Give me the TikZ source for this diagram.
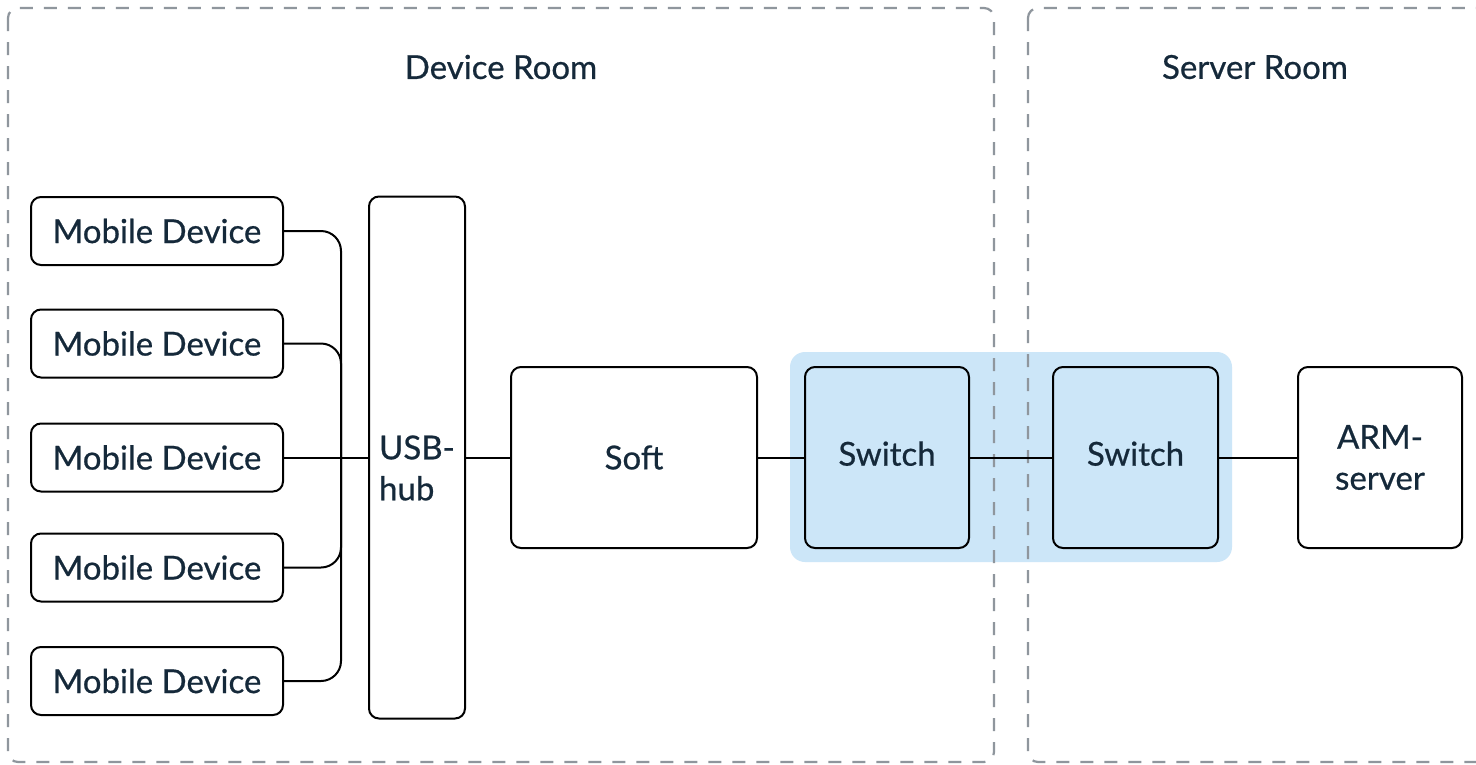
\documentclass[tikz,border=0pt]{standalone}
\usepackage{fontspec}
\setmainfont{Lato}
\newfontfamily\labfont{Lato}[FakeBold=0.6]
\definecolor{txt}{HTML}{15293A}
\definecolor{hl}{HTML}{CCE6F8}
\definecolor{dashc}{HTML}{8F969D}
\begin{document}
\begin{tikzpicture}[x=1pt,y=-1pt,
  box/.style={draw=black, line width=2pt, rounded corners=10pt, text=txt, font=\labfont\fontsize{33}{41}\selectfont, inner sep=0pt},
  mob/.style={box, minimum width=252pt, minimum height=68pt},
  big/.style={box, minimum height=181pt},
  room/.style={draw=dashc, line width=2.2pt, dash pattern=on 13pt off 11pt, rounded corners=10pt},
  wire/.style={draw=black, line width=2pt},
  lab/.style={text=txt, font=\labfont\fontsize{33}{41}\selectfont, inner sep=0pt},
  title/.style={lab}]
\clip (0,0) rectangle (1476,764);
\fill[white] (0,0) rectangle (1476,764);
% highlight
\fill[hl, rounded corners=15pt] (790,352) rectangle (1232,562);
% rooms
\draw[room] (8,8) rectangle (994,762);
\draw[room] (1028,8) rectangle (1500,762);
\node[title] (t1) at (501,67) {Device Room};
\node[title] (t2) at (1255,67) {Server Room};
% mobile devices
\node[mob] (m1) at (157,231) {Mobile Device};
\node[mob] (m2) at (157,343.5) {Mobile Device};
\node[mob] (m3) at (157,457.5) {Mobile Device};
\node[mob] (m4) at (157,567.5) {Mobile Device};
\node[mob] (m5) at (157,681) {Mobile Device};
\node[box, minimum width=96pt, minimum height=522pt] (hub) at (417,457.5) {};
\node[lab, align=left] (hubtext) at (417,468) {USB-\\hub};
\node[big, minimum width=246pt] (soft) at (634,457.5) {\raisebox{-2pt}{Soft}};
\node[big, minimum width=164pt, fill=hl] (sw1) at (887,457.5) {\raisebox{8pt}{Switch}};
\node[big, minimum width=165pt, fill=hl] (sw2) at (1135.5,457.5) {\raisebox{8pt}{Switch}};
\node[big, minimum width=164pt, align=center] (arm) at (1380,457.5) {ARM-\\server};
\coordinate (bus) at (341,457.5);
% wires
\draw[wire, rounded corners=20pt] (m1.east) -| (bus);
\draw[wire, rounded corners=20pt] (m2.east) -| (bus);
\draw[wire, rounded corners=20pt] (m4.east) -| (bus);
\draw[wire, rounded corners=20pt] (m5.east) -| (bus);
\draw[wire] (m3.east) -- (hub.west);
\draw[wire] (hub.east) -- (soft.west);
\draw[wire] (soft.east) -- (sw1.west);
\draw[wire] (sw1.east) -- (sw2.west);
\draw[wire] (sw2.east) -- (arm.west);
\end{tikzpicture}
\end{document}
